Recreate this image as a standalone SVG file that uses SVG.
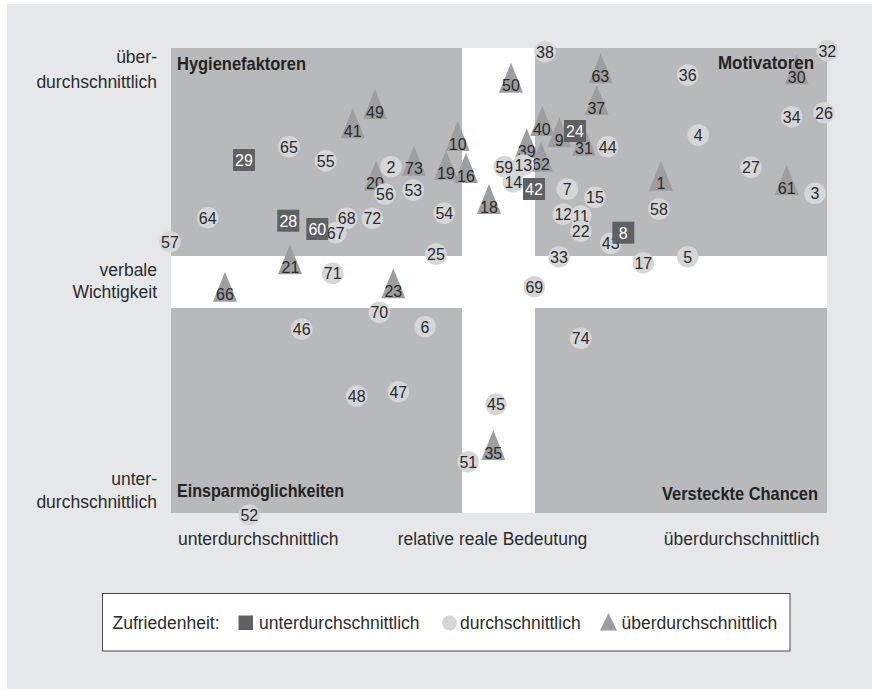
<svg xmlns="http://www.w3.org/2000/svg" xmlns:xlink="http://www.w3.org/1999/xlink" width="872" height="689" viewBox="0 0 872 689">
<style>
text{font-family:"Liberation Sans Narrow","Liberation Sans",Arial,sans-serif;}
.n{font-size:16px;fill:#2b2b2c;text-anchor:middle;}
.w{font-size:16px;fill:#ffffff;text-anchor:middle;}
.ax{font-family:"Liberation Sans",Arial,sans-serif;font-size:17.5px;fill:#2b2b2c;}
.r{text-anchor:end;}
.m{text-anchor:middle;}
.ttl{font-family:"Liberation Sans",Arial,sans-serif;font-size:18.5px;font-weight:bold;fill:#232324;}
.q{fill:#b8b9bb;}
</style>
<defs>
<path id="tri" d="M0,-30 L12,0 L-12,0 Z" fill="#9d9ea0"/>
<circle id="cir" r="10.8" fill="#d5d6d8"/>
<rect id="sq" x="-11" y="-11" width="22" height="22" fill="#5f6063"/>
</defs>
<rect x="7" y="4" width="865" height="685" fill="#e6e7e8"/>
<g id="plot">
<rect x="171" y="48" width="656" height="465" fill="#ffffff"/>
<rect class="q" x="171" y="48" width="291" height="208"/>
<rect class="q" x="535" y="48" width="292" height="208"/>
<rect class="q" x="171" y="308" width="291" height="205"/>
<rect class="q" x="535" y="308" width="292" height="205"/>
</g>
<g id="axes">
<text class="ax r" x="157" y="63">über-</text>
<text class="ax r" x="157" y="88">durchschnittlich</text>
<text class="ax r" x="157" y="276">verbale</text>
<text class="ax r" x="157" y="298">Wichtigkeit</text>
<text class="ax r" x="157" y="485">unter-</text>
<text class="ax r" x="157" y="508">durchschnittlich</text>
<text class="ax" x="178" y="545">unterdurchschnittlich</text>
<text class="ax m" x="492.5" y="545">relative reale Bedeutung</text>
<text class="ax r" x="819.5" y="545">überdurchschnittlich</text>
</g>
<g id="triangles">
<g id="p49"><use href="#tri" x="375" y="119"/><text class="n" x="375" y="117.5">49</text></g>
<g id="p41"><use href="#tri" x="352.7" y="138.3"/><text class="n" x="352.7" y="136.8">41</text></g>
<g id="p73"><use href="#tri" x="414" y="175.7"/><text class="n" x="414" y="174.2">73</text></g>
<g id="p10"><use href="#tri" x="457.7" y="151"/><text class="n" x="457.7" y="149.5">10</text></g>
<g id="p19"><use href="#tri" x="446" y="180"/><text class="n" x="446" y="178.5">19</text></g>
<g id="p16"><use href="#tri" x="466" y="183"/><text class="n" x="466" y="181.5">16</text></g>
<g id="p20"><use href="#tri" x="376" y="190.7"/><text class="n" x="375" y="189.2">20</text></g>
<g id="p21"><use href="#tri" x="290" y="274.3"/><text class="n" x="290.5" y="272.8">21</text></g>
<g id="p66"><use href="#tri" x="225" y="301.7"/><text class="n" x="225" y="300.2">66</text></g>
<g id="p23"><use href="#tri" x="393.3" y="298.3"/><text class="n" x="393.3" y="296.8">23</text></g>
<g id="p50"><use href="#tri" x="511" y="92.7"/><text class="n" x="511" y="91.2">50</text></g>
<g id="p63"><use href="#tri" x="600.7" y="83.3"/><text class="n" x="600.3" y="81.8">63</text></g>
<g id="p30"><use href="#tri" x="796.7" y="84.3"/><text class="n" x="796.7" y="82.8">30</text></g>
<g id="p37"><use href="#tri" x="596.7" y="115"/><text class="n" x="596.3" y="113.5">37</text></g>
<g id="p40"><use href="#tri" x="542.3" y="136"/><text class="n" x="541.8" y="134.5">40</text></g>
<g id="p9"><use href="#tri" x="559.3" y="147.3"/><text class="n" x="559.3" y="145.8">9</text></g>
<g id="p31"><use href="#tri" x="584" y="155.7"/><text class="n" x="584" y="154.2">31</text></g>
<g id="p39"><use href="#tri" x="526.7" y="158.3"/><text class="n" x="526.7" y="156.8">39</text></g>
<g id="p62"><use href="#tri" x="541" y="171.7"/><text class="n" x="541" y="170.2">62</text></g>
<g id="p1"><use href="#tri" x="661" y="190.7"/><text class="n" x="661" y="189.2">1</text></g>
<g id="p61"><use href="#tri" x="786.7" y="195"/><text class="n" x="786.7" y="193.5">61</text></g>
<g id="p18"><use href="#tri" x="489" y="214"/><text class="n" x="489" y="212.5">18</text></g>
<g id="p35"><use href="#tri" x="493.3" y="460"/><text class="n" x="493.3" y="458.5">35</text></g>
</g>
<g id="circles">
<g id="p65"><use href="#cir" x="289" y="146.7"/><text class="n" x="289" y="152.5">65</text></g>
<g id="p55"><use href="#cir" x="325.7" y="160.7"/><text class="n" x="325.7" y="166.5">55</text></g>
<g id="p2"><use href="#cir" x="391" y="166.7"/><text class="n" x="391" y="172.5">2</text></g>
<g id="p56"><use href="#cir" x="385" y="194"/><text class="n" x="385" y="199.8">56</text></g>
<g id="p53"><use href="#cir" x="413.3" y="190"/><text class="n" x="413.3" y="195.8">53</text></g>
<g id="p64"><use href="#cir" x="207.7" y="217.7"/><text class="n" x="207.7" y="223.5">64</text></g>
<g id="p68"><use href="#cir" x="346.7" y="218.3"/><text class="n" x="346.7" y="224.1">68</text></g>
<g id="p72"><use href="#cir" x="372.3" y="218.3"/><text class="n" x="372.3" y="224.1">72</text></g>
<g id="p54"><use href="#cir" x="444.3" y="213.3"/><text class="n" x="444.3" y="219.1">54</text></g>
<g id="p67"><use href="#cir" x="335.7" y="232.7"/><text class="n" x="335.7" y="238.5">67</text></g>
<g id="p57"><use href="#cir" x="170" y="241.7"/><text class="n" x="170" y="247.5">57</text></g>
<g id="p25"><use href="#cir" x="436" y="254"/><text class="n" x="436" y="259.8">25</text></g>
<g id="p71"><use href="#cir" x="332.7" y="273.3"/><text class="n" x="332.7" y="279.1">71</text></g>
<g id="p70"><use href="#cir" x="379.3" y="312.3"/><text class="n" x="379.3" y="318.1">70</text></g>
<g id="p46"><use href="#cir" x="301.7" y="329"/><text class="n" x="301.7" y="334.8">46</text></g>
<g id="p6"><use href="#cir" x="425" y="326.7"/><text class="n" x="425" y="332.5">6</text></g>
<g id="p48"><use href="#cir" x="356.7" y="396"/><text class="n" x="356.7" y="401.8">48</text></g>
<g id="p47"><use href="#cir" x="398.3" y="391.7"/><text class="n" x="398.3" y="397.5">47</text></g>
<g id="p51"><use href="#cir" x="468.3" y="461.7"/><text class="n" x="468.3" y="467.5">51</text></g>
<g id="p52"><use href="#cir" x="249.3" y="515"/><text class="n" x="249.3" y="520.8">52</text></g>
<g id="p38"><use href="#cir" x="545" y="51.7"/><text class="n" x="545" y="57.5">38</text></g>
<g id="p36"><use href="#cir" x="687.7" y="75"/><text class="n" x="687.7" y="80.8">36</text></g>
<g id="p32"><use href="#cir" x="827.3" y="50.7"/><text class="n" x="827.3" y="56.5">32</text></g>
<g id="p34"><use href="#cir" x="791.7" y="116.7"/><text class="n" x="791.7" y="122.5">34</text></g>
<g id="p26"><use href="#cir" x="824" y="112.7"/><text class="n" x="824" y="118.5">26</text></g>
<g id="p44"><use href="#cir" x="607.7" y="146.7"/><text class="n" x="607.7" y="152.5">44</text></g>
<g id="p4"><use href="#cir" x="698.3" y="135"/><text class="n" x="698.3" y="140.8">4</text></g>
<g id="p14"><use href="#cir" x="513.3" y="181.7"/><text class="n" x="513.3" y="187.5">14</text></g>
<g id="p59"><use href="#cir" x="504.3" y="166.7"/><text class="n" x="504.3" y="172.5">59</text></g>
<g id="p13"><use href="#cir" x="523.3" y="165"/><text class="n" x="523.3" y="170.8">13</text></g>
<g id="p7"><use href="#cir" x="567.3" y="189"/><text class="n" x="567.3" y="194.8">7</text></g>
<g id="p15"><use href="#cir" x="595" y="197.3"/><text class="n" x="595" y="203.1">15</text></g>
<g id="p27"><use href="#cir" x="751" y="167.3"/><text class="n" x="751" y="173.1">27</text></g>
<g id="p3"><use href="#cir" x="815" y="193.3"/><text class="n" x="815" y="199.1">3</text></g>
<g id="p58"><use href="#cir" x="659" y="209"/><text class="n" x="659" y="214.8">58</text></g>
<g id="p12"><use href="#cir" x="563.3" y="214"/><text class="n" x="563.3" y="219.8">12</text></g>
<g id="p11"><use href="#cir" x="580.7" y="216"/><text class="n" x="580.7" y="221.8">11</text></g>
<g id="p22"><use href="#cir" x="580.7" y="231"/><text class="n" x="580.7" y="236.8">22</text></g>
<g id="p43"><use href="#cir" x="610.7" y="243.3"/><text class="n" x="610.7" y="249.1">43</text></g>
<g id="p33"><use href="#cir" x="559" y="256.7"/><text class="n" x="559" y="262.5">33</text></g>
<g id="p17"><use href="#cir" x="643.3" y="262.7"/><text class="n" x="643.3" y="268.5">17</text></g>
<g id="p5"><use href="#cir" x="687.7" y="256.7"/><text class="n" x="687.7" y="262.5">5</text></g>
<g id="p69"><use href="#cir" x="534.3" y="286.7"/><text class="n" x="534.3" y="292.5">69</text></g>
<g id="p74"><use href="#cir" x="580.7" y="338.3"/><text class="n" x="580.7" y="344.1">74</text></g>
<g id="p45"><use href="#cir" x="496" y="404.3"/><text class="n" x="496" y="410.1">45</text></g>
</g>
<g id="squares">
<g id="p29"><use href="#sq" x="244" y="160"/><text class="w" x="244" y="165.8">29</text></g>
<g id="p28"><use href="#sq" x="288.3" y="220.7"/><text class="w" x="288.3" y="226.5">28</text></g>
<g id="p60"><use href="#sq" x="317.3" y="229"/><text class="w" x="317.3" y="234.8">60</text></g>
<g id="p24"><use href="#sq" x="575" y="131"/><text class="w" x="575" y="136.8">24</text></g>
<g id="p42"><use href="#sq" x="534" y="189"/><text class="w" x="534" y="194.8">42</text></g>
<g id="p8"><use href="#sq" x="623.3" y="232.7"/><text class="w" x="623.3" y="238.5">8</text></g>
</g>
<g id="titles">
<text class="ttl" x="177" y="70" textLength="129" lengthAdjust="spacingAndGlyphs">Hygienefaktoren</text>
<text class="ttl" x="718" y="69" textLength="96" lengthAdjust="spacingAndGlyphs">Motivatoren</text>
<text class="ttl" x="177" y="497" textLength="167" lengthAdjust="spacingAndGlyphs">Einsparmöglichkeiten</text>
<text class="ttl" x="662" y="500" textLength="156" lengthAdjust="spacingAndGlyphs">Versteckte Chancen</text>
</g>
<g id="legend">
<rect x="102.5" y="593.5" width="687.5" height="57.5" fill="#ffffff" stroke="#4a4a4c" stroke-width="1"/>
<text class="ax" x="112.5" y="629">Zufriedenheit:</text>
<rect x="238.5" y="615.5" width="14.5" height="14.5" fill="#5f6063"/>
<text class="ax" x="259" y="629">unterdurchschnittlich</text>
<circle cx="449.5" cy="623" r="7.5" fill="#d5d6d8"/>
<text class="ax" x="460" y="629">durchschnittlich</text>
<path d="M608.5,613 L617,630.5 L600,630.5 Z" fill="#9d9ea0"/>
<text class="ax" x="621.5" y="629">überdurchschnittlich</text>
</g>
</svg>
